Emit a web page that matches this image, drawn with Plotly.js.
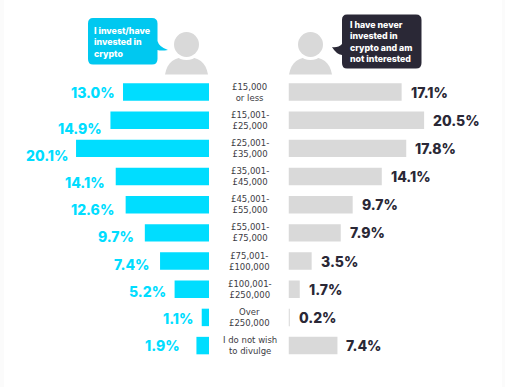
<!DOCTYPE html>
<html>
<head>
<meta charset="utf-8">
<script src="https://cdn.plot.ly/plotly-3.0.1.min.js"></script>
<style>html,body{margin:0;padding:0;background:#fff;overflow:hidden}#c{width:505px;height:387px}</style>
</head>
<body>
<div id="c"></div>
<script>
const categories = ["£15,000<br>or less","£15,001-<br>£25,000","£25,001-<br>£35,000","£35,001-<br>£45,000","£45,001-<br>£55,000","£55,001-<br>£75,000","£75,001-<br>£100,000","£100,001-<br>£250,000","Over<br>£250,000","I do not wish<br>to divulge"];
const investors = [13.0,14.9,20.1,14.1,12.6,9.7,7.4,5.2,1.1,1.9];
const notInterested = [17.1,20.5,17.8,14.1,9.7,7.9,3.5,1.7,0.2,7.4];
const investorLabelGap = [8,8,8,11,12,11,11,9,9,16];
const investorLabelDrop = [0,8,7,6,5,4,3,2,1,0];
const investorTitle = "I invest/have<br>invested in<br>crypto";
const otherTitle = "I have never<br>invested in<br>crypto and am<br>not interested";

const W = 505, H = 387;
const CYAN = "#00DDFF", GREY = "#D9D9D9", DARK = "#2A2836";
const PX = 6.615;
const valueFont = c => ({family:"Inter, 'Open Sans', sans-serif", size:14, color:c, weight:800});
const catFont = {family:"'DejaVu Sans', sans-serif", size:8.5, color:"#3c3c44"};
const bubbleFont = {family:"Inter, 'Open Sans', sans-serif", size:8.8, color:"#fff", weight:800};

const bar = (vals,color,xa) => ({type:"bar",orientation:"h",x:vals,y:categories,xaxis:xa,yaxis:"y",
  marker:{color:color,line:{width:0}},width:0.62,hoverinfo:"skip",showlegend:false});

const annotations = [];
categories.forEach((c,i)=>{
  annotations.push({xref:"x3",yref:"y",x:249.5,y:c,text:c,showarrow:false,font:catFont,align:"center",xanchor:"center",yanchor:"middle"});
  annotations.push({xref:"x",yref:"y",x:investors[i],y:c,text:investors[i].toFixed(1)+"%",showarrow:false,font:valueFont(CYAN),
    xanchor:"right",yanchor:"middle",xshift:-investorLabelGap[i],yshift:-investorLabelDrop[i],borderpad:0,borderwidth:0});
  annotations.push({xref:"x2",yref:"y",x:notInterested[i],y:c,text:notInterested[i].toFixed(1)+"%",showarrow:false,font:valueFont(DARK),
    xanchor:"left",yanchor:"middle",xshift:9,borderpad:0,borderwidth:0});
});
annotations.push({xref:"x3",yref:"y3",x:92,y:41.5,text:investorTitle,showarrow:false,font:bubbleFont,align:"left",xanchor:"left",yanchor:"middle"});
annotations.push({xref:"x3",yref:"y3",x:347.5,y:41.5,text:otherTitle,showarrow:false,font:bubbleFont,align:"left",xanchor:"left",yanchor:"middle"});

const overlay = o => Object.assign({xref:"x3",yref:"y3",layer:"below"},o);
const circle = (cx,cy,r,color) => overlay({type:"circle",x0:cx-r,x1:cx+r,y0:cy-r,y1:cy+r,fillcolor:color,line:{width:0}});
const body = (l,r) => overlay({type:"path",path:`M${l},74.5 C${l+2},62 ${l+10},57 ${(l+r)/2},57 C${r-10},57 ${r-2},62 ${r},74.5 Z`,fillcolor:GREY,line:{width:0}});
const shapes = [
  {type:"rect",xref:"paper",yref:"paper",layer:"below",x0:4/W,x1:502/W,y0:0,y1:1,fillcolor:"#fff",line:{width:0}},
  body(165,208), circle(186.5,44.5,15.5,"#fff"), circle(186.5,44.5,12.5,GREY),
  body(289,332), circle(310.5,44.5,15.5,"#fff"), circle(310.5,44.5,12.5,GREY),
  overlay({type:"path",path:"M93,18 L152,18 Q157.5,18 157.5,23.5 L157.5,41 Q159,47 168,50 Q161,51 157.5,50 L157.5,59 Q157.5,64.5 152,64.5 L93,64.5 Q88,64.5 88,59 L88,23.5 Q88,18 93,18 Z",fillcolor:"#00C8F0",line:{width:0}}),
  overlay({type:"path",path:"M347,14.5 L416,14.5 Q421.5,14.5 421.5,20 L421.5,63 Q421.5,68.5 416,68.5 L347,68.5 Q342,68.5 342,63 L342,55 Q336,54 332,47 Q338,48 342,44 L342,20 Q342,14.5 347,14.5 Z",fillcolor:DARK,line:{width:0}})
];

const layout = {
  width:W,height:H,margin:{l:0,r:0,t:0,b:0},paper_bgcolor:"#FBFBFB",plot_bgcolor:"rgba(0,0,0,0)",showlegend:false,barmode:"overlay",
  xaxis:{domain:[0,209/W],range:[209/PX,0],visible:false,fixedrange:true},
  xaxis2:{domain:[288.5/W,1],range:[0,(W-288.5)/PX],visible:false,fixedrange:true},
  xaxis3:{domain:[0,1],range:[0,W],visible:false,fixedrange:true,anchor:"y3"},
  yaxis:{domain:[0,1],type:"category",categoryorder:"array",categoryarray:categories,range:[10.47,-3.266],visible:false,fixedrange:true},
  yaxis3:{domain:[0,1],range:[H,0],visible:false,fixedrange:true,anchor:"x3"},
  shapes:shapes,annotations:annotations
};
const dummy = {type:"scatter",mode:"markers",x:[0],y:[0],xaxis:"x3",yaxis:"y3",marker:{opacity:0},hoverinfo:"skip",showlegend:false};
Plotly.newPlot("c",[dummy,bar(investors,CYAN,"x"),bar(notInterested,GREY,"x2")],layout,{staticPlot:true,displayModeBar:false});
</script>
</body>
</html>
